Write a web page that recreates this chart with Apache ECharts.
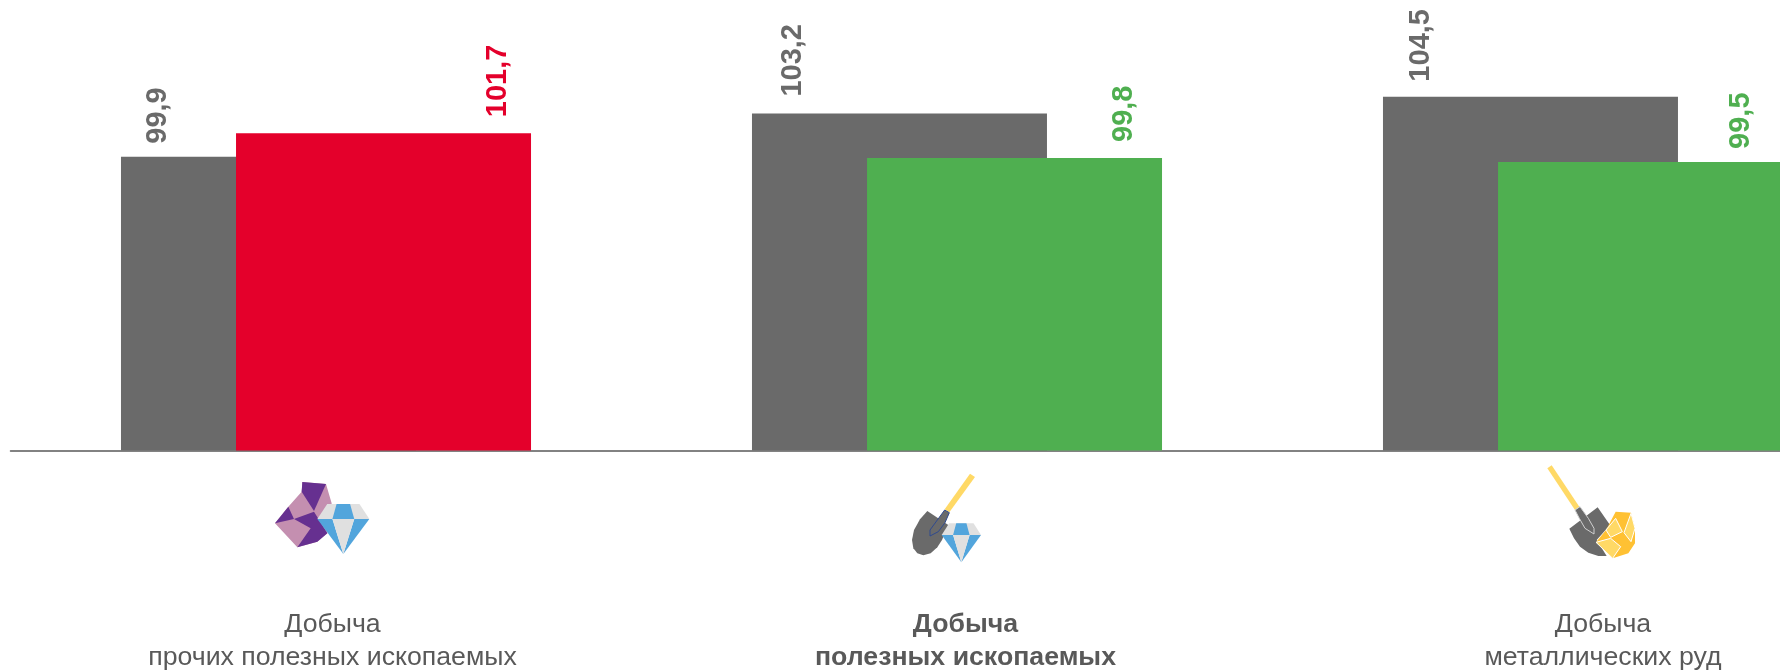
<!DOCTYPE html>
<html>
<head>
<meta charset="utf-8">
<style>html,body{margin:0;padding:0;background:#fff}#chart{width:1780px;height:670px}</style>
<script src="https://cdn.jsdelivr.net/npm/echarts@6/dist/echarts.min.js"></script>
</head>
<body>
<div id="chart"></div>
<script>
const categories = ['Добыча\nпрочих полезных ископаемых', 'Добыча\nполезных ископаемых', 'Добыча\nметаллических руд']
const prevValues = [99.9, 103.2, 104.5]
const currValues = [101.7, 99.8, 99.5]
const currColors = ['#E4002B', '#4FAF50', '#4FAF50']

// per-bar label nudges, the original places them by hand
// label is rotated so the offset rotates too: [up, right]
const prevLabelOffsets = [[13, -110], [17, -106], [15, -109]]
const currLabelOffsets = [[16, 114], [16, 109], [13, 95]]
const catShift = [13, 17, 30]

const GRAY = '#6A6A6A', PINK = '#C48FB0', PURPLE = '#663090', BLUE = '#52A5DC', LIGHT = '#E0E0E0'
const YEL = '#FFD966', GOLD = '#FFC133'

const poly = (points, fill, extra) => ({ type: 'polygon', shape: { points }, style: Object.assign({ fill }, extra) })
const diamond = (x0, y0, w, h) => {
  const p = (a, b) => [x0 + a * w, y0 + b * h]
  return [
    poly([p(.19, 0), p(.81, 0), p(1, .3), p(0, .3)], LIGHT),
    poly([p(.37, 0), p(.63, 0), p(.71, .3), p(.29, .3)], BLUE),
    poly([p(0, .3), p(.29, .3), p(.5, 1)], BLUE),
    poly([p(1, .3), p(.71, .3), p(.5, 1)], BLUE),
    poly([p(.29, .3), p(.71, .3), p(.5, 1)], LIGHT)
  ]
}

const icon1 = {
  type: 'group', x: 240, y: 440, scaleX: 1 / 3, scaleY: 1 / 3,
  children: [
    poly([[187, 126], [258, 132], [275, 190], [262, 280], [232, 305], [172, 322], [105, 250], [145, 200], [185, 155]], PINK),
    poly([[187, 126], [258, 132], [222, 213], [185, 155]], PURPLE),
    poly([[145, 200], [162, 237], [105, 250]], PURPLE),
    poly([[162, 237], [222, 215], [262, 280], [232, 305], [172, 322], [212, 265]], PURPLE),
    ...diamond(232, 192, 156, 150)
  ]
}

const icon2 = {
  type: 'group', x: 880, y: 450, scaleX: 1 / 3, scaleY: 1 / 3,
  children: [
    poly([[270, 71], [285, 81], [208, 187], [194, 178]], YEL),
    poly([[142, 183], [205, 225], [186, 270], [172, 292], [152, 310], [130, 316], [112, 310], [100, 295], [96, 270], [102, 240], [120, 208]], GRAY),
    poly([[194, 180], [208, 188], [195, 218], [175, 245], [150, 258], [150, 240], [172, 210]], GRAY, { stroke: '#2F4A8F', lineWidth: 3 }),
    ...diamond(185, 220, 118, 117)
  ]
}

const icon3 = {
  type: 'group', x: 1520, y: 450, scaleX: 1 / 3, scaleY: 1 / 3,
  children: [
    poly([[82, 55], [95, 46], [178, 170], [165, 180]], YEL),
    poly([[148, 236], [233, 172], [270, 225], [230, 270], [260, 318], [235, 318], [205, 308], [180, 290], [162, 265]], GRAY),
    poly([[165, 180], [180, 170], [205, 205], [222, 235], [222, 252], [195, 235], [178, 205]], GRAY, { stroke: '#D0D0D0', lineWidth: 3 }),
    poly([[287, 185], [333, 188], [345, 235], [345, 280], [325, 310], [278, 325], [228, 277], [258, 240]], GOLD),
    poly([[287, 205], [307, 245], [272, 262], [258, 240]], YEL, { stroke: '#fff', lineWidth: 3 }),
    poly([[333, 190], [345, 235], [333, 275], [312, 248]], YEL, { stroke: '#fff', lineWidth: 3 }),
    poly([[228, 277], [272, 265], [302, 290], [278, 325]], YEL, { stroke: '#fff', lineWidth: 3 })
  ]
}

const labelBase = {
  show: true, position: 'top', distance: 0, rotate: 90, align: 'left', verticalAlign: 'middle',
  fontFamily: 'Liberation Sans', fontWeight: 'bold', fontSize: 29,
  formatter: p => String(p.value).replace('.', ',')
}

const rich = {}
categories.forEach((c, i) => {
  rich['c' + i] = {
    fontFamily: 'Liberation Sans', fontSize: 26.7, color: '#595959', lineHeight: 33,
    fontWeight: i === 1 ? 'bold' : 'normal', padding: [0, 0, 0, catShift[i]]
  }
})

var myChart = echarts.init(document.getElementById('chart'))
myChart.setOption({
  animation: false,
  backgroundColor: '#fff',
  grid: { left: 10.5, top: 0, width: 1893, height: 450.5, outerBoundsMode: 'none' },
  xAxis: {
    type: 'category',
    data: categories,
    axisTick: { show: false },
    axisLine: { lineStyle: { color: '#595959', width: 1.5 } },
    axisLabel: {
      interval: 0, margin: 158, hideOverlap: false,
      formatter: (v, i) => v.split('\n').map(l => `{c${i}|${l}}`).join('\n'),
      rich
    }
  },
  yAxis: { type: 'value', min: 77.4, max: 111.9, show: false },
  series: [
    {
      type: 'bar', barWidth: 295, barGap: '-61%',
      data: prevValues.map((v, i) => ({
        value: v,
        label: { ...labelBase, color: '#6A6A6A', offset: prevLabelOffsets[i] }
      })),
      itemStyle: { color: GRAY }
    },
    {
      type: 'bar', barWidth: 295,
      data: currValues.map((v, i) => ({
        value: v,
        itemStyle: { color: currColors[i] },
        label: { ...labelBase, color: currColors[i], offset: currLabelOffsets[i] }
      }))
    }
  ],
  graphic: [icon1, icon2, icon3]
})
</script>
</body>
</html>
